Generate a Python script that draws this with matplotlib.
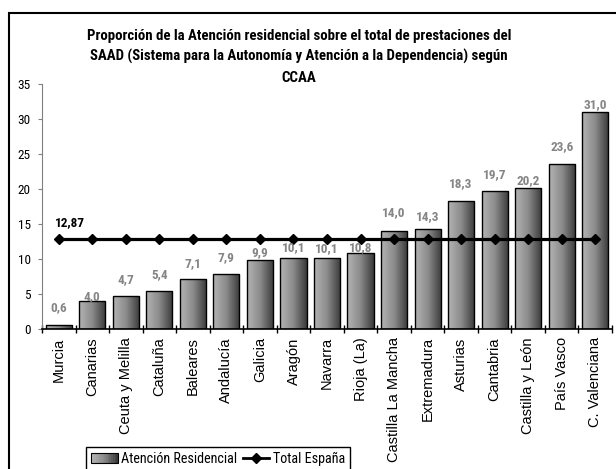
import numpy as np
import matplotlib
matplotlib.use("Agg")
import matplotlib.pyplot as plt
from matplotlib.colors import LinearSegmentedColormap
from matplotlib.patches import Rectangle
from matplotlib.lines import Line2D
from matplotlib.legend_handler import HandlerBase

categories = ["Murcia", "Canarias", "Ceuta y Melilla", "Cataluña", "Baleares",
              "Andalucía", "Galicia", "Aragón", "Navarra", "Rioja (La)",
              "Castilla La Mancha", "Extremadura", "Asturias", "Cantabria",
              "Castilla y León", "País Vasco", "C. Valenciana"]
residencial = [0.6, 4.0, 4.7, 5.4, 7.1, 7.9, 9.9, 10.1, 10.1, 10.8,
               14.0, 14.3, 18.3, 19.7, 20.2, 23.6, 31.0]
total_espana = 12.87

# label offsets above the bar top (pixels), Excel placed them unevenly
label_offsets = [17, 4, 17, 17, 16, 16, 7, 11, 10, 6, 18, 12, 17, 17, 7, 17, 7]

plt.rcParams["font.family"] = ["Roboto Condensed", "DejaVu Sans"]

cmap = LinearSegmentedColormap.from_list("bar", ["#b4b4b4", "#8a8a8a", "#3a3a3a"])

fig = plt.figure(figsize=(6.16, 4.69), dpi=100)
ax = fig.add_axes([42 / 616, 1 - 329 / 469, 570 / 616, 245 / 469])

x = np.arange(len(categories))
bars = ax.bar(x, residencial, width=0.78, facecolor="none", edgecolor="black",
              linewidth=1, zorder=3)
grad = np.linspace(0, 1, 64).reshape(1, -1)
for b in bars:
    im = ax.imshow(grad, extent=[b.get_x(), b.get_x() + b.get_width(), 0, b.get_height()],
                   cmap=cmap, aspect="auto", zorder=2)
    im.set_clip_path(b)

ax.plot(x, [total_espana] * len(x), color="black", lw=2.3, marker="D", ms=5, zorder=4)
ax.annotate("12,87", (x[0], total_espana), xytext=(8, 7), textcoords="offset points",
            ha="center", va="bottom", fontsize=9.5, fontweight="bold", color="black")

for b, v, off in zip(bars, residencial, label_offsets):
    ax.annotate(f"{v:.1f}".replace(".", ","), (b.get_x() + b.get_width() / 2, v),
                xytext=(0, off * 0.72), textcoords="offset points", ha="center",
                va="center", fontsize=9.5, fontweight="bold", color="#858585", zorder=5)

ax.set_xlim(-0.5, len(categories) - 0.5)
ax.set_ylim(0, 35)
ax.set_yticks(range(0, 36, 5))
ax.tick_params(axis="y", direction="out", length=3, color="#808080", labelsize=9.5, pad=5)
ax.set_xticks(x)
ax.set_xticklabels(categories, rotation=90, fontsize=10.5, family="Liberation Sans")
ax.set_xticks(np.arange(-0.5, len(categories), 1), minor=True)
ax.tick_params(axis="x", which="major", length=0, pad=6)
ax.tick_params(axis="x", which="minor", direction="inout", length=6, width=1)
for s in ["top", "right"]:
    ax.spines[s].set_visible(False)
ax.spines["left"].set_color("#808080")
ax.spines["bottom"].set_linewidth(1.2)

fig.text(299 / 616, 1 - 29 / 469,
         "Proporción de la Atención residencial sobre el total de prestaciones del\n"
         "SAAD (Sistema para la Autonomía y Atención a la Dependencia) según\nCCAA",
         ha="center", va="top", fontsize=10.7, fontweight="bold", linespacing=1.55)


class GradientHandler(HandlerBase):
    def create_artists(self, legend, orig_handle, xdescent, ydescent, width, height, fontsize, trans):
        arts = []
        n = 16
        for i in range(n):
            arts.append(Rectangle((-xdescent + i * width / n, -ydescent), width / n, height,
                                  facecolor=cmap(i / (n - 1)), edgecolor="none", transform=trans))
        arts.append(Rectangle((-xdescent, -ydescent), width, height, facecolor="none",
                              edgecolor="black", lw=0.8, transform=trans))
        return arts


bar_proxy = Rectangle((0, 0), 1, 1)
line_proxy = Line2D([], [], color="black", lw=2, marker="D", ms=5)
leg = fig.legend([bar_proxy, line_proxy], ["Atención Residencial", "Total España"],
                 handler_map={bar_proxy: GradientHandler()}, loc="lower left",
                 bbox_to_anchor=(86 / 616, -0.004), ncol=2, fontsize=10.2,
                 frameon=True, fancybox=False, edgecolor="black", framealpha=1,
                 handlelength=1.9, handletextpad=0.25, columnspacing=0.35,
                 borderpad=0.35, borderaxespad=0)
leg.get_frame().set_linewidth(1)

fig.patches.append(Rectangle((8.5 / 616, -0.1), 1.2, 1 - 13 / 469 + 0.1, fill=False,
                             edgecolor="black", lw=1.5, transform=fig.transFigure))

fig.savefig("out.png", dpi=100)
